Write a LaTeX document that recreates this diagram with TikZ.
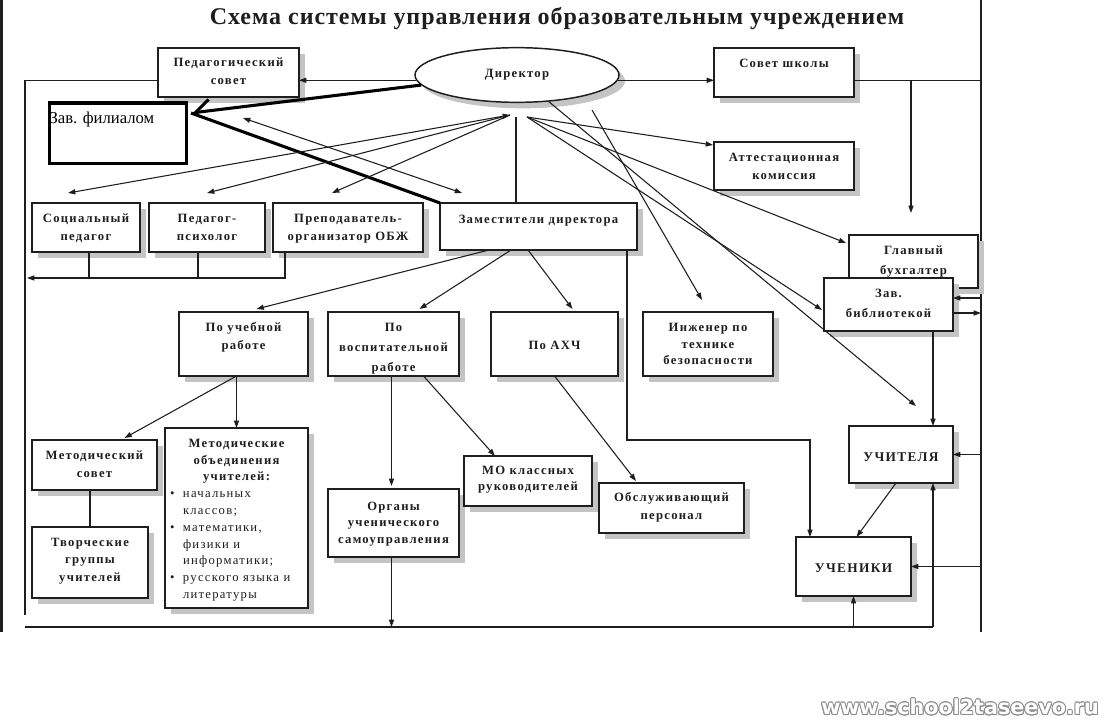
\documentclass[tikz,border=0pt]{standalone}
\usepackage{fontspec}
\setmainfont{Liberation Serif}
\newfontfamily\wide{Liberation Serif}[LetterSpace=10]
\newfontfamily\titlef{Liberation Serif}[LetterSpace=4]
\newfontfamily\wmf{DejaVu Sans}
\usetikzlibrary{arrows.meta,calc,shapes.geometric,shadows}
\definecolor{shd}{HTML}{C4C4C4}
\definecolor{ink}{HTML}{1E1E1E}
\newdimen\pxu \pxu=0.75pt
\newcommand\bt[4]{\begin{minipage}[c][#2\pxu][t]{#1\pxu}\centering\vspace*{#3\pxu}\strut#4\end{minipage}}
\newcommand\bitem[1]{\par\noindent\hangindent=18\pxu\hangafter=1\hbox to 18\pxu{\hspace{5\pxu}•\hfil}#1\par}
\begin{document}
\begin{tikzpicture}[x=0.75pt,y=-0.75pt,
  >={Triangle[length=5.5pt,width=3.8pt]},
  box/.style={draw=ink, line width=1.1pt, fill=white, inner sep=0pt, outer sep=0pt, anchor=north west,
    drop shadow={shadow xshift=4.5pt,shadow yshift=-4.5pt,fill=shd,opacity=1},
    font=\wide\bfseries\fontsize{9.5pt}{13.5pt}\selectfont, text=ink},
  ell/.style={ellipse, draw=ink, line width=1.1pt, fill=white, inner sep=0pt, minimum width=153pt, minimum height=41pt,
    drop shadow={shadow xshift=4.5pt,shadow yshift=-4.5pt,fill=shd,opacity=1},
    font=\wide\bfseries\fontsize{9.5pt}{13.5pt}\selectfont, text=ink},
  ln/.style={draw=ink, line width=0.8pt},
  thk/.style={draw=black, line width=2.3pt}]
\fill[white] (0,0) rectangle (1110,724);
\useasboundingbox (0,0) rectangle (1110,724);

% page borders
\coordinate (lbT) at (1.5,0); \coordinate (lbB) at (1.5,632);
\coordinate (rbT) at (981,0); \coordinate (rbB) at (981,632);
\draw[line width=2.3pt, draw=ink] (lbT) -- (lbB);
\draw[line width=1pt, draw=ink] (rbT) -- (rbB);

% title
\node[text=ink] (title) at (557,19) {\titlef\bfseries\fontsize{18pt}{20pt}\selectfont Схема системы управления образовательным учреждением};

% nodes
\node[ell] (dir) at (517,75) {\raisebox{2pt}{Директор}};
\node[box] (ped) at (158,48) {\bt{141}{49}{5.5}{Педагогический\\совет}};
\node[box] (sov) at (714,48) {\bt{140}{49}{6.5}{Совет школы}};
\node[draw=black, line width=2.3pt, fill=white, inner sep=0pt, anchor=north west] (fil) at (47.5,101.5)
  {\begin{minipage}[c][60\pxu][t]{137\pxu}\fontsize{12.5pt}{14.5pt}\selectfont\vspace*{6.8\pxu}\hspace*{0.5\pxu}\strut Зав. филиалом\end{minipage}};
\node[box] (att) at (714,142) {\bt{140}{48}{6.5}{Аттестационная\\комиссия}};
\node[box] (soc) at (32,203) {\bt{108}{49}{6.5}{Социальный\\педагог}};
\node[box] (psy) at (149,203) {\bt{116}{49}{6.5}{Педагог-\\психолог}};
\node[box] (obzh) at (273,203) {\bt{150}{49}{6.5}{Преподаватель-\\организатор ОБЖ}};
\node[box] (zam) at (440,203) {\bt{197}{47}{7.5}{Заместители директора}};
\node[box] (glb) at (849,235) {\bt{129}{53}{6.5}{Главный\\[1.5pt]бухгалтер}};
\node[box] (bib) at (824,278) {\bt{129}{53}{6.5}{Зав.\\[1.5pt]библиотекой}};
\node[box] (ucheb) at (179,312) {\bt{129}{64}{6.5}{По учебной\\работе}};
\node[box] (vosp) at (328,312) {\bt{131}{64}{6.5}{По\\[1.5pt]воспитательной\\[1.5pt]работе}};
\node[box] (ahch) at (491,312) {\bt{127}{64}{24.5}{По АХЧ}};
\node[box] (ing) at (643,312) {\bt{130}{64}{6.5}{Инженер по\\[-0.8pt]технике\\[-0.8pt]безопасности}};
\node[box] (msov) at (32,440) {\bt{125}{50}{6.5}{Методический\\совет}};
\node[box] (mob) at (165,428) {\begin{minipage}[c][180\pxu][t]{143\pxu}\fontsize{9.5pt}{12.6pt}\selectfont
  \centering\vspace*{7.5\pxu}\strut Методические\\объединения\\учителей:\par
  \raggedright\mdseries
  \bitem{начальных\newline классов;}
  \bitem{математики,\newline физики и\newline информатики;}
  \bitem{русского языка и\newline литературы}
  \end{minipage}};
\node[box] (tvor) at (32,527) {\bt{116}{71}{6.5}{Творческие\\[-0.4pt]группы\\[-0.4pt]учителей}};
\node[box] (org) at (328,489) {\bt{131}{68}{8.5}{Органы\\[-1.1pt]ученического\\[-1.1pt]самоуправления}};
\node[box] (mo) at (464,456) {\bt{128}{50}{5.5}{МО классных\\[-1.5pt]руководителей}};
\node[box] (obs) at (599,483) {\bt{145}{50}{5.5}{Обслуживающий\\персонал}};
\node[box, font=\wide\bfseries\fontsize{10pt}{13.5pt}\selectfont] (uchit) at (849,426) {\bt{104}{57}{22.5}{УЧИТЕЛЯ}};
\node[box, font=\wide\bfseries\fontsize{10pt}{13.5pt}\selectfont] (uchen) at (796,537) {\bt{115}{59}{22.5}{УЧЕНИКИ}};

% director links
\draw[ln,->] (dir.183) -- (dir.183 -| ped.east);
\draw[ln,->] (dir.357) -- (dir.357 -| sov.west);
\coordinate (flB) at (25,615);
\draw[ln] (ped.west |- dir.183) -| (flB);
\draw[ln] (sov.east |- dir.357) -- (rbT |- dir.357);
\coordinate (glbTip) at (911,213);
\draw[ln,->] (glbTip |- dir.357) -- (glbTip);

% thick lines (Зав. филиалом)
\coordinate (filtip) at (191,113);
\draw[thk,-{Straight Barb[harpoon,swap,length=11pt,width=17pt]}] (dir.186) -- (filtip);
\draw[thk] (filtip) -- (zam.north west);

% fan to the left
\coordinate (fanL) at (510,115);
\coordinate (tSoc) at (68,193);
\coordinate (tPsy) at (207,193);
\coordinate (tObzh) at (332,193);
\draw[ln,<->] (fanL) -- (tSoc);
\draw[ln,->] (fanL) -- (tPsy);
\draw[ln,->] (fanL) -- (tObzh);
\coordinate (dA) at (243,118);
\coordinate (dB) at (462,193);
\draw[ln,<->] (dA) -- (dB);
\coordinate (fanV) at (516,117);
\draw[ln] (fanV) -- (fanV |- zam.north);

% fan to the right
\coordinate (fanR) at (527,117);
\draw[ln,->] (fanR) -- ($(att.north west)+(-1,3)$);
\draw[ln,->] (fanR) -- ($(glb.north west)+(-3,8)$);
\draw[ln,->] (fanR) -- ($(bib.north west)+(-2,32)$);
\draw[ln,->] (dir.320) -- ($(uchit.north west)+(67,-20)$);
\coordinate (ingS) at (592,110);
\draw[ln,->] (ingS) -- ($(ing.north west)+(59,-12)$);

% left column stubs
\coordinate (hl) at (27,278);
\draw[ln,->] ($(obzh.south west)+(12,0)$) |- (hl);
\draw[ln] ($(soc.south)+(3,0)$) -- ++(0,26);
\draw[ln] ($(psy.south)+(-9,0)$) -- ++(0,26);

% deputies
\draw[ln,->] ($(zam.south west)+(49,0)$) -- ($(ucheb.north)+(13,-3)$);
\draw[ln,->] ($(zam.south west)+(71,0)$) -- ($(vosp.north)+(26,-3)$);
\draw[ln,->] ($(zam.south west)+(88,0)$) -- ($(ahch.north)+(18,-3)$);
\draw[ln,->] ($(zam.south east)+(-10,0)$) -- ++(0,190) -| ($(uchen.north west)+(14,0)$);

% study branch
\draw[ln,->] (mob.north |- ucheb.south) -- (mob.north);
\draw[ln,->] (mob.north |- ucheb.south) -- ($(msov.north)+(30,-2)$);
\draw[ln] (tvor.north |- msov.south) -- (tvor.north);

% upbringing branch
\draw[ln,->] ($(vosp.south)+(-2,0)$) -- ($(org.north)+(-2,-3)$);
\draw[ln,->] ($(vosp.south)+(30,0)$) -- ($(mo.north west)+(31,0)$);
\draw[ln,->] ($(org.south)+(-2,0)$) -- ($(org.south)+(-2,70)$);
\draw[ln,->] (ahch.south) -- ($(obs.north west)+(37,-2)$);

% right side
\draw[ln,<-] ($(bib.north east)+(0,20)$) -- ($(bib.north east)+(28,20)$);
\draw[ln,->] ($(bib.north east)+(0,35)$) -- ($(bib.north east)+(28,35)$);
\draw[ln,->] ($(bib.south east)+(-20,0)$) -- ($(uchit.north east)+(-20,0)$);
\draw[ln,<-] (uchit.east) -- (uchit.east -| rbT);
\draw[ln,->] ($(uchit.south)+(-5,0)$) -- ($(uchen.north)+(3,0)$);
\draw[ln,<-] (uchen.east) -- (uchen.east -| rbT);

% bottom line
\coordinate (blL) at (25,627);
\coordinate (blR) at (933,627);
\draw[ln] (blL) -- (blR);
\draw[ln,->] (blR) -- ($(uchit.south east)+(-20,0)$);
\draw[ln,->] (uchen.south |- blL) -- (uchen.south);

% watermark
\foreach \a in {0,30,...,330}
  \node[text=black!45, font=\wmf\bfseries\fontsize{15.5pt}{17pt}\selectfont] (wm\a) at ($(960,707)+(\a:0.9)$) {www.school2taseevo.ru};
\node[text=white, font=\wmf\bfseries\fontsize{15.5pt}{17pt}\selectfont] (wm) at (960,707) {www.school2taseevo.ru};
\end{tikzpicture}
\end{document}
